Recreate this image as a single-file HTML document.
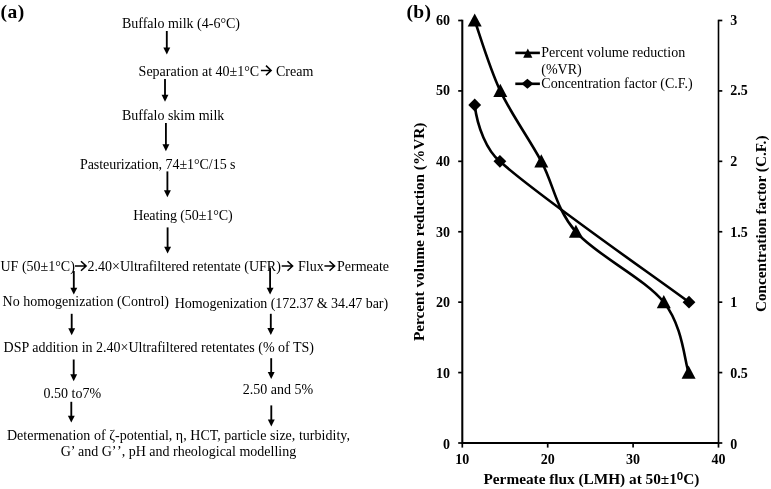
<!DOCTYPE html><html><head><meta charset="utf-8"><title>Figure</title>
<style>html,body{margin:0;padding:0;background:#fff}svg{display:block}text{font-family:"Liberation Serif", "Times New Roman", serif;fill:#000}.t{font-size:14px}.b{font-weight:bold}</style></head><body>
<svg width="771" height="489" viewBox="0 0 771 489">
<rect width="771" height="489" fill="#fff"/>
<text x="0.4" y="17.7" class="b" font-size="19.5" letter-spacing="0.5">(a)</text>
<text x="121.9" y="28.2" class="t" >Buffalo milk (4-6°C)</text>
<line x1="166.8" y1="31" x2="166.8" y2="48.6" stroke="#000" stroke-width="1.85"/>
<path d="M163.35 47.6 L170.25 47.6 L166.8 54.5 Z" fill="#000"/>
<text x="138.6" y="75.9" class="t" >Separation at 40±1°C</text>
<path d="M260.9 70.4 H270.6 M266.0 65.6 L271.1 70.4 L266.0 75.2" fill="none" stroke="#000" stroke-width="1.55" stroke-linejoin="miter"/>
<text x="276" y="75.9" class="t" >Cream</text>
<line x1="165" y1="79" x2="165" y2="95.8" stroke="#000" stroke-width="1.85"/>
<path d="M161.55 94.8 L168.45 94.8 L165 101.7 Z" fill="#000"/>
<text x="121.9" y="120.1" class="t" >Buffalo skim milk</text>
<line x1="165.9" y1="123" x2="165.9" y2="145.3" stroke="#000" stroke-width="1.85"/>
<path d="M162.45 144.3 L169.35 144.3 L165.9 151.2 Z" fill="#000"/>
<text x="79.9" y="169.1" class="t" textLength="155.6" lengthAdjust="spacing">Pasteurization, 74±1°C/15 s</text>
<line x1="167.4" y1="171.4" x2="167.4" y2="191.3" stroke="#000" stroke-width="1.85"/>
<path d="M163.95 190.3 L170.85 190.3 L167.4 197.2 Z" fill="#000"/>
<text x="133.2" y="220.1" class="t" textLength="99.4" lengthAdjust="spacing">Heating (50±1°C)</text>
<line x1="167.6" y1="227.4" x2="167.6" y2="247.7" stroke="#000" stroke-width="1.85"/>
<path d="M164.15 246.7 L171.05 246.7 L167.6 253.6 Z" fill="#000"/>
<text x="0.5" y="270.5" class="t" >UF (50±1°C)</text>
<path d="M75 266 H85.6 M81.0 261.2 L86.1 266 L81.0 270.8" fill="none" stroke="#000" stroke-width="1.55" stroke-linejoin="miter"/>
<text x="87.5" y="270.5" class="t" >2.40×Ultrafiltered retentate (UFR)</text>
<path d="M281.7 266 H292.1 M287.5 261.2 L292.6 266 L287.5 270.8" fill="none" stroke="#000" stroke-width="1.55" stroke-linejoin="miter"/>
<text x="298" y="270.5" class="t" >Flux</text>
<path d="M324.4 266 H334.1 M329.5 261.2 L334.6 266 L329.5 270.8" fill="none" stroke="#000" stroke-width="1.55" stroke-linejoin="miter"/>
<text x="337" y="270.5" class="t" >Permeate</text>
<line x1="73.8" y1="271" x2="73.8" y2="288.7" stroke="#000" stroke-width="1.85"/>
<path d="M70.35 287.7 L77.25 287.7 L73.8 294.6 Z" fill="#000"/>
<line x1="270.1" y1="267.5" x2="270.1" y2="288.7" stroke="#000" stroke-width="1.85"/>
<path d="M266.65 287.7 L273.55 287.7 L270.1 294.6 Z" fill="#000"/>
<text x="2.6" y="305.8" class="t" >No homogenization (Control)</text>
<text x="174.8" y="307.5" class="t" textLength="213.3" lengthAdjust="spacing">Homogenization (172.37 &amp; 34.47 bar)</text>
<line x1="71.7" y1="313.8" x2="71.7" y2="329.3" stroke="#000" stroke-width="1.85"/>
<path d="M68.25 328.3 L75.15 328.3 L71.7 335.2 Z" fill="#000"/>
<line x1="270.8" y1="313.8" x2="270.8" y2="329.1" stroke="#000" stroke-width="1.85"/>
<path d="M267.35 328.1 L274.25 328.1 L270.8 335 Z" fill="#000"/>
<text x="3.6" y="352.4" class="t" >DSP addition in 2.40×Ultrafiltered retentates (% of TS)</text>
<line x1="73.7" y1="359.5" x2="73.7" y2="375.3" stroke="#000" stroke-width="1.85"/>
<path d="M70.25 374.3 L77.15 374.3 L73.7 381.2 Z" fill="#000"/>
<line x1="271.2" y1="358.2" x2="271.2" y2="373.0" stroke="#000" stroke-width="1.85"/>
<path d="M267.75 372.0 L274.65 372.0 L271.2 378.9 Z" fill="#000"/>
<text x="43.6" y="398.3" class="t" >0.50 to7%</text>
<text x="242.8" y="393.5" class="t" >2.50 and 5%</text>
<line x1="71.3" y1="401.8" x2="71.3" y2="416.7" stroke="#000" stroke-width="1.85"/>
<path d="M67.85 415.7 L74.75 415.7 L71.3 422.6 Z" fill="#000"/>
<line x1="271.3" y1="405.4" x2="271.3" y2="420.6" stroke="#000" stroke-width="1.85"/>
<path d="M267.85 419.6 L274.75 419.6 L271.3 426.5 Z" fill="#000"/>
<text x="6.9" y="439.8" class="t" textLength="343" lengthAdjust="spacing">Determenation of ζ-potential, η, HCT, particle size, turbidity,</text>
<text x="60.7" y="456.3" class="t" >G’ and G’<tspan dx="1.6">’</tspan>, pH and rheological modelling</text>
<text x="406.5" y="18.2" class="b" font-size="19.5" letter-spacing="0.3">(b)</text>
<path d="M462.3 19.7 V443.0 H718.5" fill="none" stroke="#000" stroke-width="2.05"/>
<path d="M718.5 19.7 V443.9" fill="none" stroke="#000" stroke-width="1.6"/>
<line x1="458.2" y1="443.0" x2="462.3" y2="443.0" stroke="#000" stroke-width="1.7"/>
<line x1="718.5" y1="443.0" x2="722.3" y2="443.0" stroke="#000" stroke-width="1.7"/>
<text x="450.1" y="448.5" class="b" font-size="14" text-anchor="end">0</text>
<text x="730.2" y="448.5" class="b" font-size="14">0</text>
<line x1="458.2" y1="372.58" x2="462.3" y2="372.58" stroke="#000" stroke-width="1.7"/>
<line x1="718.5" y1="372.58" x2="722.3" y2="372.58" stroke="#000" stroke-width="1.7"/>
<text x="450.1" y="377.9" class="b" font-size="14" text-anchor="end">10</text>
<text x="730.2" y="377.9" class="b" font-size="14">0.5</text>
<line x1="458.2" y1="302.17" x2="462.3" y2="302.17" stroke="#000" stroke-width="1.7"/>
<line x1="718.5" y1="302.17" x2="722.3" y2="302.17" stroke="#000" stroke-width="1.7"/>
<text x="450.1" y="307.3" class="b" font-size="14" text-anchor="end">20</text>
<text x="730.2" y="307.3" class="b" font-size="14">1</text>
<line x1="458.2" y1="231.75" x2="462.3" y2="231.75" stroke="#000" stroke-width="1.7"/>
<line x1="718.5" y1="231.75" x2="722.3" y2="231.75" stroke="#000" stroke-width="1.7"/>
<text x="450.1" y="236.7" class="b" font-size="14" text-anchor="end">30</text>
<text x="730.2" y="236.7" class="b" font-size="14">1.5</text>
<line x1="458.2" y1="161.33" x2="462.3" y2="161.33" stroke="#000" stroke-width="1.7"/>
<line x1="718.5" y1="161.33" x2="722.3" y2="161.33" stroke="#000" stroke-width="1.7"/>
<text x="450.1" y="166.0" class="b" font-size="14" text-anchor="end">40</text>
<text x="730.2" y="166.0" class="b" font-size="14">2</text>
<line x1="458.2" y1="90.92" x2="462.3" y2="90.92" stroke="#000" stroke-width="1.7"/>
<line x1="718.5" y1="90.92" x2="722.3" y2="90.92" stroke="#000" stroke-width="1.7"/>
<text x="450.1" y="95.4" class="b" font-size="14" text-anchor="end">50</text>
<text x="730.2" y="95.4" class="b" font-size="14">2.5</text>
<line x1="458.2" y1="20.5" x2="462.3" y2="20.5" stroke="#000" stroke-width="1.7"/>
<line x1="718.5" y1="20.5" x2="722.3" y2="20.5" stroke="#000" stroke-width="1.7"/>
<text x="450.1" y="24.8" class="b" font-size="14" text-anchor="end">60</text>
<text x="730.2" y="24.8" class="b" font-size="14">3</text>
<line x1="462.3" y1="443.0" x2="462.3" y2="447.6" stroke="#000" stroke-width="1.7"/>
<text x="462.3" y="463.9" class="b" font-size="14" text-anchor="middle">10</text>
<line x1="547.7" y1="443.0" x2="547.7" y2="447.6" stroke="#000" stroke-width="1.7"/>
<text x="547.7" y="463.9" class="b" font-size="14" text-anchor="middle">20</text>
<line x1="633.1" y1="443.0" x2="633.1" y2="447.6" stroke="#000" stroke-width="1.7"/>
<text x="633.1" y="463.9" class="b" font-size="14" text-anchor="middle">30</text>
<line x1="718.5" y1="443.0" x2="718.5" y2="447.6" stroke="#000" stroke-width="1.7"/>
<text x="718.5" y="463.9" class="b" font-size="14" text-anchor="middle">40</text>
<text x="483.5" y="484.4" class="b" font-size="15.3" textLength="215.9" lengthAdjust="spacing">Permeate flux (LMH) at 50±1<tspan font-family="Liberation Sans, Arial, sans-serif" font-size="11.5" dy="-4.9">0</tspan><tspan dy="4.9">C)</tspan></text>
<text transform="translate(424.4,341) rotate(-90)" class="b" font-size="15.3" textLength="218.4" lengthAdjust="spacing">Percent volume reduction (%VR)</text>
<text transform="translate(765.6,312.1) rotate(-90)" class="b" font-size="15.3" textLength="176.6" lengthAdjust="spacing">Concentration factor (C.F.)</text>
<path d="M474.7 105.0 C477.3 127.0 486.9 150.8 499.9 161.3 C535.6 194.2 657.5 278.7 689.0 302.2" fill="none" stroke="#000" stroke-width="2.6"/>
<path d="M474.7 20.5 C479.0 32.2 489.2 67.4 500.3 90.9 C511.4 114.4 528.7 137.9 541.3 161.3 C553.9 184.8 555.5 208.3 575.9 231.8 C596.3 255.2 645.1 278.7 663.8 302.2 C682.6 325.6 684.5 360.8 688.6 372.6" fill="none" stroke="#000" stroke-width="2.6"/>
<path d="M474.7 13.4 L481.7 26.6 L467.7 26.6 Z" fill="#000"/>
<path d="M500.3 83.8 L507.3 97.0 L493.3 97.0 Z" fill="#000"/>
<path d="M541.3 154.2 L548.3 167.4 L534.3 167.4 Z" fill="#000"/>
<path d="M575.9 224.7 L582.9 237.8 L568.9 237.8 Z" fill="#000"/>
<path d="M663.8 295.1 L670.8 308.3 L656.8 308.3 Z" fill="#000"/>
<path d="M688.6 365.5 L695.6 378.7 L681.6 378.7 Z" fill="#000"/>
<path d="M474.7 98.6 L481.1 105.0 L474.7 111.4 L468.3 105.0 Z" fill="#000"/>
<path d="M499.9 154.9 L506.3 161.3 L499.9 167.7 L493.5 161.3 Z" fill="#000"/>
<path d="M689.0 295.8 L695.4 302.2 L689.0 308.6 L682.6 302.2 Z" fill="#000"/>
<line x1="515.3" y1="52.9" x2="539.9" y2="52.9" stroke="#000" stroke-width="2.6"/>
<path d="M527.8 48.5 L532.4 57.8 L523.2 57.8 Z" fill="#000"/>
<text x="541.3" y="57" class="t" font-size="13.7">Percent volume reduction</text>
<text x="541.3" y="73.6" class="t" font-size="13.7">(%VR)</text>
<line x1="515.3" y1="83.8" x2="539.9" y2="83.8" stroke="#000" stroke-width="2.6"/>
<path d="M527.4 78.8 L533.4 83.8 L527.4 88.8 L521.4 83.8 Z" fill="#000"/>
<text x="541.3" y="88.4" class="t" font-size="13.7">Concentration factor (C.F.)</text>
</svg></body></html>
